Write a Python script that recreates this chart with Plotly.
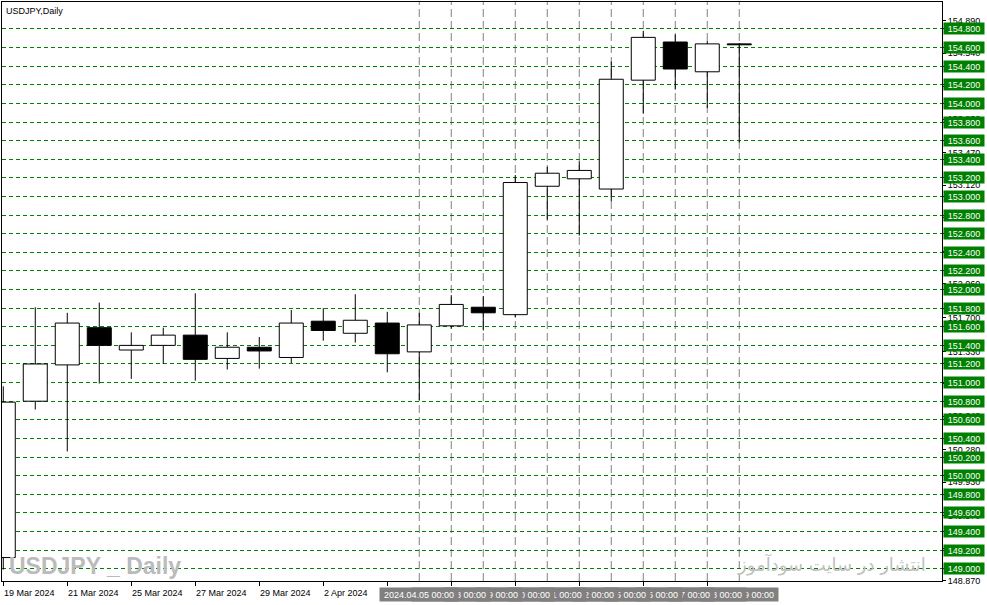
import plotly.graph_objects as go

# ---------------- data ----------------
dates = ["2024-03-19", "2024-03-20", "2024-03-21", "2024-03-22", "2024-03-25", "2024-03-26",
         "2024-03-27", "2024-03-28", "2024-03-29", "2024-04-01", "2024-04-02", "2024-04-03",
         "2024-04-04", "2024-04-05", "2024-04-08", "2024-04-09", "2024-04-10", "2024-04-11",
         "2024-04-12", "2024-04-15", "2024-04-16", "2024-04-17", "2024-04-18", "2024-04-19"]
opens = [149.12, 150.80, 151.19, 151.59, 151.35, 151.40, 151.51, 151.26, 151.38, 151.27, 151.66, 151.53,
         151.64, 151.33, 151.61, 151.81, 151.73, 153.11, 153.19, 153.08, 154.25, 154.66, 154.34, 154.64]
highs = [150.96, 151.81, 151.75, 151.86, 151.54, 151.59, 151.96, 151.54, 151.49, 151.78, 151.80, 151.95,
         151.76, 151.75, 151.94, 151.93, 153.23, 153.32, 153.38, 154.45, 154.78, 154.74, 154.67, 154.65]
lows = [148.99, 150.71, 150.26, 150.99, 151.04, 151.20, 151.02, 151.14, 151.15, 151.21, 151.45, 151.43,
        151.11, 150.81, 151.58, 151.56, 151.70, 152.75, 152.58, 152.95, 153.89, 154.15, 153.95, 153.58]
closes = [150.79, 151.20, 151.64, 151.40, 151.40, 151.51, 151.25, 151.38, 151.34, 151.64, 151.56, 151.67,
          151.31, 151.62, 151.84, 151.75, 153.15, 153.25, 153.28, 154.26, 154.71, 154.37, 154.64, 154.63]

green_levels = [154.8, 154.6, 154.4, 154.2, 154.0, 153.8, 153.6, 153.4, 153.2, 153.0,
                152.8, 152.6, 152.4, 152.2, 152.0, 151.8, 151.6, 151.4, 151.2, 151.0,
                150.8, 150.6, 150.4, 150.2, 150.0, 149.8, 149.6, 149.4, 149.2, 149.0]
scale_ticks = [154.890, 154.540, 154.180, 153.830, 153.470, 153.120, 152.770, 152.410, 152.060,
               151.700, 151.330, 150.990, 150.640, 150.280, 149.930, 149.570, 149.220, 148.870]

axis_tick_idx = [0, 2, 4, 6, 8, 10, 12, 14, 16, 18, 20, 22]
axis_label_idx = [0, 2, 4, 6, 8, 10]
axis_labels = ["19 Mar 2024", "21 Mar 2024", "25 Mar 2024", "27 Mar 2024", "29 Mar 2024", "2 Apr 2024"]

vline_idx = [13, 14, 15, 16, 17, 18, 19, 20, 21, 22, 23]
vline_labels = ["2024.04.05 00:00", "2024.04.08 00:00", "2024.04.09 00:00", "2024.04.10 00:00",
                "2024.04.11 00:00", "2024.04.12 00:00", "2024.04.15 00:00", "2024.04.16 00:00",
                "2024.04.17 00:00", "2024.04.18 00:00", "2024.04.19 00:00"]

# ---------------- figure ----------------
FONT = "Liberation Sans, Arial, sans-serif"
x = list(range(len(dates)))
body_base = [min(o, c) for o, c in zip(opens, closes)]
body_h = [max(abs(c - o), 0.008) for o, c in zip(opens, closes)]
body_col = ["white" if c >= o else "black" for o, c in zip(opens, closes)]

wx, wy = [], []
for i, o, h, l, c in zip(x, opens, highs, lows, closes):
    wx += [i, i, None, i, i, None]
    wy += [l, min(o, c), None, max(o, c), h, None]

fig = go.Figure()
fig.add_trace(go.Scatter(x=wx, y=wy, mode="lines", line=dict(color="black", width=1),
                         hoverinfo="skip", showlegend=False))
fig.add_trace(go.Bar(x=x, y=body_h, base=body_base, width=0.75,
                     marker=dict(color=body_col, line=dict(color="black", width=1)),
                     hoverinfo="skip", showlegend=False))
fig.add_trace(go.Scatter(x=[None], y=[None], yaxis="y2", showlegend=False, hoverinfo="skip"))

YR = [148.868, 155.090]
XR = [-0.04, 29.335]

shapes = []
for i in vline_idx:
    shapes.append(dict(type="line", xref="x", yref="paper", x0=i, x1=i, y0=0, y1=1,
                       line=dict(color="#808080", width=1, dash="8px,4px"), layer="between"))

ann = []
ann.append(dict(xref="paper", yref="paper", x=0, y=1, xanchor="left", yanchor="top",
                xshift=2, yshift=-2, text="USDJPY,Daily", showarrow=False,
                font=dict(family=FONT, size=9, color="black")))
ann.append(dict(xref="paper", yref="paper", x=0, y=0, xanchor="left", yanchor="bottom",
                xshift=5, yshift=0, text="<b>USDJPY _ Daily</b>", showarrow=False,
                font=dict(family="Liberation Sans Narrow, Liberation Sans, Arial", size=23, color="#bbbbbb")))
ann.append(dict(xref="paper", yref="paper", x=(928 - 2) / 940, y=0, xanchor="right", yanchor="bottom",
                yshift=3, text="انتشار در سایت سودآموز", showarrow=False,
                font=dict(family="DejaVu Sans", size=18, color="#c0c0c0")))

for v in green_levels:
    ann.append(dict(xref="paper", yref="y", x=1, y=v, xanchor="left", yanchor="middle", xshift=1,
                    text=f"{v:.3f}", showarrow=False, bgcolor="#008000", width=38, height=9, borderpad=1,
                    font=dict(family=FONT, size=9, color="white")))

for i, t in zip(axis_label_idx, axis_labels):
    ann.append(dict(xref="x", yref="paper", x=i, y=0, xanchor="left", yanchor="top", xshift=-1, yshift=-5,
                    text=t, showarrow=False, font=dict(family=FONT, size=9, color="black")))

for i, t in reversed(list(zip(vline_idx, vline_labels))):
    ann.append(dict(xref="x", yref="paper", x=i, y=0, xanchor="center", yanchor="top", yshift=-6,
                    text=t, showarrow=False, bgcolor="#808080", width=76, height=11, borderpad=1,
                    font=dict(family=FONT, size=9, color="white")))

fig.update_layout(
    width=987, height=605,
    margin=dict(l=2, r=45, t=2, b=24, autoexpand=False),
    paper_bgcolor="white", plot_bgcolor="white",
    barmode="overlay",
    showlegend=False,
    hovermode=False,
    xaxis=dict(range=XR, showgrid=False, zeroline=False, tickvals=axis_tick_idx,
               showticklabels=False, ticks="outside", ticklen=4, tickcolor="black",
               showline=True, mirror=True, linecolor="black", linewidth=1, fixedrange=True),
    yaxis=dict(range=YR, side="right", tickvals=green_levels, showticklabels=False,
               ticks="outside", ticklen=3, tickcolor="black",
               showgrid=True, gridcolor="#008000", griddash="4px,3px", gridwidth=1,
               zeroline=False, showline=True, mirror=True, linecolor="black", linewidth=1),
    yaxis2=dict(range=YR, overlaying="y", side="right", tickvals=scale_ticks,
                ticktext=[f"{v:.3f}" for v in scale_ticks], ticks="outside", ticklen=3,
                tickcolor="black", tickfont=dict(family=FONT, size=9, color="black"),
                showgrid=False, zeroline=False, showline=False),
    shapes=shapes,
    annotations=ann,
)

fig.write_html("out.html", config={"displayModeBar": False},
               post_script="document.body.style.margin='0px';document.body.style.overflow='hidden';")
